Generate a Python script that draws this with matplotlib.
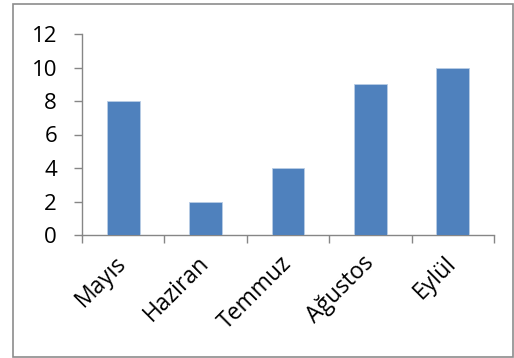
import matplotlib.pyplot as plt
from matplotlib.patches import Rectangle

months = ['Mayıs', 'Haziran', 'Temmuz', 'Ağustos', 'Eylül']
values = [8, 2, 4, 9, 10]
yticks = [0, 2, 4, 6, 8, 10, 12]

plt.rcParams['font.family'] = ['Open Sans', 'DejaVu Sans']
W, H = 514, 358
fig = plt.figure(figsize=(W / 100, H / 100), dpi=100)
ax = fig.add_axes([82 / W, 1 - 235 / H, (494 - 82) / W, (235 - 34) / H])

axis_grey = '#868686'
ax.bar(range(len(months)), values, width=0.4, color='#4F81BD', edgecolor='#B9CDE5', linewidth=0.6, zorder=3)

ax.set_xlim(-0.5, len(months) - 0.5)
ax.set_ylim(0, 12)
ax.set_yticks(yticks)
ax.set_yticklabels([str(t) for t in yticks], fontsize=16)

# category ticks sit between the bars, labels under bar centres
ax.set_xticks([i - 0.5 for i in range(len(months) + 1)])
ax.set_xticklabels([])
ax.set_xticks(range(len(months)), minor=True)
ax.set_xticklabels(months, minor=True, rotation=45, ha='right', va='center',
                   rotation_mode='anchor', fontsize=16.5)
ax.tick_params(axis='x', which='minor', length=0, pad=18)
ax.tick_params(axis='x', which='major', length=6, color=axis_grey, width=1)
ax.tick_params(axis='y', length=6, color=axis_grey, width=1, pad=12)

for side in ['top', 'right']:
    ax.spines[side].set_visible(False)
for side in ['left', 'bottom']:
    ax.spines[side].set_color(axis_grey)
    ax.spines[side].set_linewidth(1)

# chart area border
fig.patches.append(Rectangle((13 / W, 1 / H), (W - 14) / W, (H - 5) / H,
                             transform=fig.transFigure, fill=False,
                             edgecolor='#8C8C8C', linewidth=1.2))

fig.savefig('out.png', dpi=100)
